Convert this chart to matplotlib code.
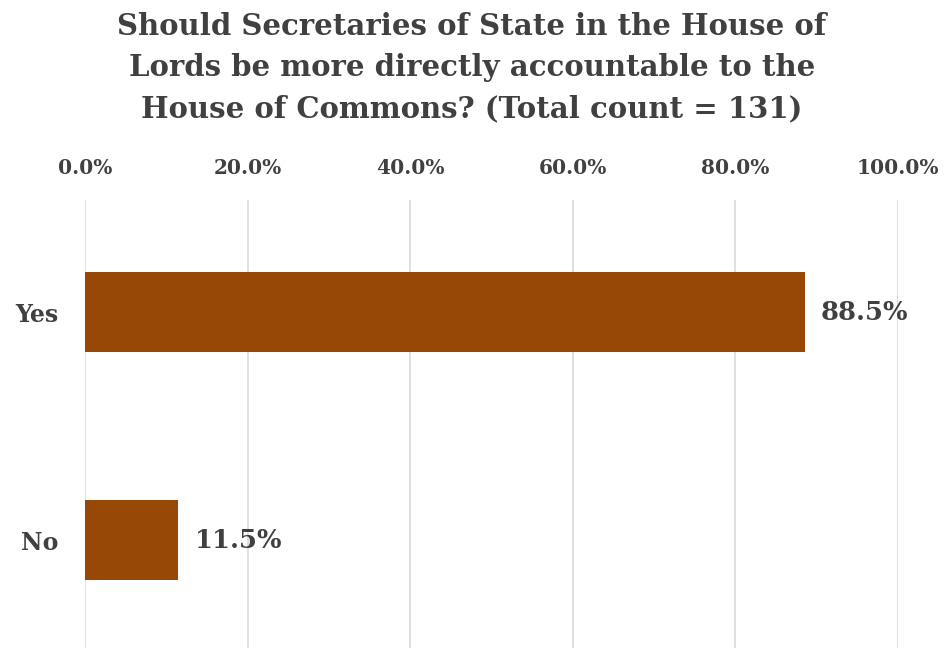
import matplotlib
matplotlib.use("Agg")
import matplotlib.pyplot as plt
from matplotlib.ticker import FuncFormatter

categories = ["No", "Yes"]
values = [11.5, 88.5]
tick_values = [0, 20, 40, 60, 80, 100]

title = ("Should Secretaries of State in the House of\n"
         "Lords be more directly accountable to the\n"
         "House of Commons? (Total count = 131)")

txt = "#404040"
bar_color = "#974706"
plt.rcParams['font.family'] = ['DejaVu Serif']
plt.rcParams['font.weight'] = 'bold'

fig = plt.figure(figsize=(9.44, 6.48), dpi=100)
ax = fig.add_axes([85/944, -0.006, (898-85)/944, 0.697])
ax.barh(range(len(categories)), values, height=0.35, color=bar_color, zorder=3)
ax.set_xlim(0, 100)
ax.set_ylim(-0.49, 1.49)
ax.set_yticks(range(len(categories)))
ax.set_yticklabels(categories, fontsize=17, color=txt, fontweight='bold')
ax.set_xticks(tick_values)
ax.xaxis.set_major_formatter(FuncFormatter(lambda v, p: f"{v:.1f}%"))
ax.xaxis.tick_top()
ax.tick_params(axis='x', length=0, pad=16, labelsize=14.5, labelcolor=txt)
ax.tick_params(axis='y', length=0, pad=19)
for lab in ax.get_xticklabels():
    lab.set_fontweight('bold')
ax.grid(axis='x', color='#d9d9d9', linewidth=1.2, zorder=0)
for s in ax.spines.values():
    s.set_visible(False)
for i, v in enumerate(values):
    ax.text(v + 2, i, f"{v:.1f}%", va='center', ha='left', fontsize=18.5,
            color=txt, fontweight='bold')
fig.text(0.5, 0.981, title, ha='center', va='top', fontsize=21, color=txt,
         fontweight='bold', linespacing=1.52)
fig.savefig("out.png", dpi=100)
